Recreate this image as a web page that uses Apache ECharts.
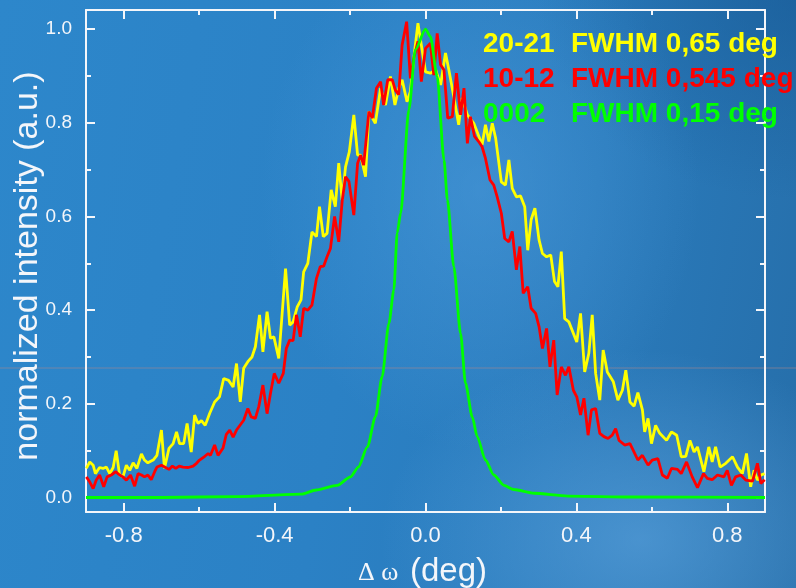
<!DOCTYPE html>
<html>
<head>
<meta charset="utf-8">
<script src="https://cdn.jsdelivr.net/npm/echarts@6/dist/echarts.min.js"></script>
<style>
  html, body { margin: 0; padding: 0; width: 796px; height: 588px; overflow: hidden; }
  body {
    background:
      radial-gradient(ellipse 260px 190px at 640px 540px, rgba(100,170,228,0.55), rgba(100,170,228,0) 100%),
      radial-gradient(ellipse 220px 260px at 480px 190px, rgba(85,162,226,0.45), rgba(85,162,226,0) 100%),
      radial-gradient(ellipse 260px 200px at 796px 0px, rgba(22,88,148,0.6), rgba(22,88,148,0) 100%),
      linear-gradient(100deg, #2d87cb 0%, #2b81c5 45%, #2a7bbc 70%, #266ea9 100%);
  }
  #chart { width: 796px; height: 588px; }
</style>
</head>
<body>
<div id="chart"></div>
<script>
// Axis tick positions
const xMajor = [-0.8, -0.4, 0, 0.4, 0.8];
const xMinor = [-0.6, -0.2, 0.2, 0.6];
const yMajor = [0, 0.2, 0.4, 0.6, 0.8, 1.0];
const yMinor = [0.1, 0.3, 0.5, 0.7, 0.9];

// 20-21 reflection rocking curve
const yellowX = [-0.899,-0.890,-0.881,-0.875,-0.864,-0.855,-0.846,-0.837,-0.828,-0.820,-0.811,-0.802,-0.793,-0.784,-0.775,-0.765,-0.753,-0.745,-0.736,-0.722,-0.712,-0.700,-0.692,-0.680,-0.669,-0.660,-0.652,-0.641,-0.632,-0.621,-0.612,-0.603,-0.594,-0.584,-0.572,-0.559,-0.546,-0.535,-0.522,-0.510,-0.501,-0.491,-0.482,-0.471,-0.460,-0.451,-0.440,-0.431,-0.420,-0.411,-0.402,-0.389,-0.371,-0.360,-0.351,-0.340,-0.330,-0.323,-0.312,-0.301,-0.289,-0.281,-0.271,-0.261,-0.250,-0.239,-0.230,-0.221,-0.212,-0.202,-0.190,-0.180,-0.172,-0.159,-0.150,-0.133,-0.119,-0.106,-0.093,-0.081,-0.071,-0.062,-0.049,-0.040,-0.031,-0.020,-0.011,0.000,0.013,0.027,0.040,0.053,0.062,0.075,0.088,0.097,0.111,0.128,0.150,0.159,0.168,0.177,0.186,0.201,0.212,0.221,0.230,0.241,0.252,0.263,0.271,0.280,0.290,0.301,0.310,0.321,0.332,0.342,0.351,0.360,0.369,0.380,0.401,0.411,0.422,0.433,0.442,0.451,0.462,0.471,0.482,0.498,0.510,0.522,0.531,0.542,0.553,0.563,0.575,0.581,0.590,0.599,0.610,0.621,0.639,0.652,0.666,0.678,0.690,0.701,0.712,0.721,0.738,0.751,0.760,0.769,0.781,0.796,0.814,0.827,0.840,0.851,0.862,0.871,0.880,0.889,0.899];
const yellowY = [0.062,0.076,0.069,0.051,0.064,0.062,0.065,0.051,0.064,0.100,0.048,0.044,0.069,0.058,0.074,0.062,0.093,0.080,0.074,0.080,0.090,0.144,0.062,0.105,0.115,0.140,0.115,0.115,0.158,0.097,0.176,0.158,0.164,0.154,0.180,0.204,0.215,0.254,0.250,0.236,0.286,0.204,0.276,0.290,0.300,0.322,0.390,0.311,0.397,0.340,0.343,0.297,0.489,0.368,0.375,0.407,0.422,0.482,0.500,0.567,0.557,0.621,0.557,0.564,0.657,0.621,0.714,0.635,0.706,0.738,0.817,0.731,0.731,0.685,0.824,0.799,0.874,0.838,0.899,0.838,0.874,0.892,0.845,0.867,0.938,1.013,0.966,0.909,0.906,0.913,0.881,0.949,0.913,0.856,0.796,0.853,0.817,0.799,0.753,0.796,0.760,0.799,0.767,0.674,0.667,0.721,0.660,0.642,0.644,0.621,0.528,0.593,0.618,0.550,0.521,0.514,0.518,0.461,0.450,0.525,0.382,0.375,0.332,0.393,0.268,0.308,0.390,0.265,0.208,0.315,0.268,0.247,0.208,0.229,0.272,0.204,0.195,0.224,0.187,0.140,0.169,0.115,0.154,0.137,0.122,0.140,0.133,0.087,0.088,0.122,0.097,0.108,0.055,0.108,0.076,0.108,0.065,0.073,0.087,0.065,0.051,0.094,0.023,0.058,0.037,0.048,0.051];

// 10-12 reflection rocking curve
const redX = [-0.899,-0.890,-0.881,-0.873,-0.864,-0.853,-0.844,-0.833,-0.821,-0.811,-0.802,-0.793,-0.782,-0.771,-0.762,-0.753,-0.745,-0.736,-0.727,-0.718,-0.712,-0.700,-0.689,-0.680,-0.671,-0.662,-0.653,-0.643,-0.629,-0.616,-0.607,-0.599,-0.585,-0.576,-0.570,-0.559,-0.550,-0.537,-0.528,-0.519,-0.510,-0.501,-0.482,-0.471,-0.462,-0.451,-0.442,-0.431,-0.420,-0.411,-0.401,-0.389,-0.377,-0.369,-0.360,-0.351,-0.342,-0.332,-0.323,-0.312,-0.301,-0.289,-0.279,-0.270,-0.261,-0.252,-0.241,-0.230,-0.221,-0.212,-0.203,-0.190,-0.180,-0.172,-0.164,-0.150,-0.141,-0.130,-0.119,-0.111,-0.100,-0.088,-0.080,-0.071,-0.062,-0.050,-0.040,-0.031,-0.020,-0.011,0.000,0.013,0.022,0.031,0.040,0.049,0.059,0.071,0.082,0.093,0.102,0.111,0.119,0.130,0.141,0.150,0.159,0.171,0.181,0.190,0.201,0.210,0.221,0.230,0.241,0.250,0.259,0.271,0.280,0.292,0.301,0.310,0.321,0.330,0.340,0.349,0.360,0.371,0.380,0.392,0.401,0.411,0.420,0.431,0.440,0.451,0.462,0.473,0.484,0.495,0.504,0.513,0.528,0.542,0.553,0.563,0.575,0.590,0.601,0.616,0.628,0.641,0.652,0.668,0.678,0.692,0.707,0.721,0.737,0.747,0.760,0.774,0.791,0.800,0.811,0.822,0.836,0.849,0.867,0.880,0.889,0.899];
const redY = [0.044,0.033,0.019,0.037,0.048,0.023,0.044,0.048,0.055,0.048,0.044,0.037,0.048,0.024,0.051,0.048,0.044,0.048,0.038,0.055,0.065,0.069,0.064,0.060,0.067,0.062,0.067,0.065,0.064,0.067,0.073,0.080,0.088,0.094,0.090,0.112,0.090,0.105,0.135,0.144,0.129,0.144,0.165,0.190,0.172,0.169,0.194,0.240,0.179,0.222,0.265,0.244,0.265,0.318,0.336,0.335,0.390,0.343,0.404,0.400,0.411,0.468,0.493,0.494,0.514,0.532,0.600,0.546,0.632,0.685,0.675,0.603,0.714,0.731,0.710,0.824,0.810,0.874,0.888,0.838,0.892,0.892,0.870,0.860,0.966,1.016,0.895,0.938,0.974,0.888,0.959,0.970,0.902,0.991,0.924,0.913,0.810,0.813,0.906,0.817,0.874,0.756,0.813,0.771,0.760,0.749,0.724,0.678,0.667,0.642,0.607,0.553,0.546,0.568,0.486,0.536,0.436,0.450,0.404,0.393,0.365,0.318,0.361,0.279,0.336,0.219,0.279,0.261,0.279,0.229,0.215,0.176,0.212,0.133,0.187,0.190,0.137,0.130,0.126,0.133,0.147,0.122,0.112,0.115,0.097,0.080,0.090,0.069,0.080,0.083,0.048,0.041,0.062,0.060,0.051,0.076,0.044,0.021,0.051,0.041,0.038,0.048,0.044,0.058,0.026,0.044,0.048,0.037,0.035,0.073,0.030,0.038];

// 0002 reflection rocking curve
const greenX = [-0.900,-0.700,-0.500,-0.330,-0.290,-0.234,-0.199,-0.178,-0.154,-0.133,-0.115,-0.097,-0.084,-0.075,-0.066,-0.044,-0.027,0.000,0.013,0.031,0.049,0.058,0.075,0.093,0.106,0.124,0.137,0.159,0.181,0.208,0.234,0.288,0.377,0.550,0.900];
const greenY = [0.000,0.000,0.002,0.007,0.016,0.026,0.044,0.065,0.108,0.172,0.258,0.372,0.443,0.565,0.607,0.828,0.956,1.000,0.984,0.899,0.721,0.636,0.493,0.350,0.244,0.172,0.130,0.080,0.048,0.026,0.017,0.009,0.003,0.001,0.000];

const legendRows = [
  { name: '20-21', fwhm: 'FWHM 0,65 deg', color: '#ffff00' },
  { name: '10-12', fwhm: 'FWHM 0,545 deg', color: '#ff0000' },
  { name: '0002', fwhm: 'FWHM 0,15 deg', color: '#00ff00' }
];

const pairs = (xs, ys) => xs.map((x, i) => [x, ys[i]]);

const X_MIN = -0.9, X_MAX = 0.9, Y_MIN = -0.031, Y_MAX = 1.041;
const white = '#f4f6fa';
const sans = '"Liberation Sans", Arial, sans-serif';

function xAxisDef(position, ticks, len, withLine, withLabels) {
  return {
    type: 'value', min: X_MIN, max: X_MAX, position: position,
    axisLine: { show: withLine, onZero: false, lineStyle: { color: white, width: 2 } },
    axisTick: { show: true, inside: true, length: len, customValues: ticks, lineStyle: { color: white, width: 2 } },
    axisLabel: withLabels ? {
      show: true, customValues: ticks, color: white, fontSize: 22, fontFamily: sans, margin: 13,
      formatter: v => v.toFixed(1)
    } : { show: false },
    splitLine: { show: false }
  };
}
function yAxisDef(position, ticks, len, withLine, withLabels) {
  return {
    type: 'value', min: Y_MIN, max: Y_MAX, position: position,
    axisLine: { show: withLine, onZero: false, lineStyle: { color: white, width: 2 } },
    axisTick: { show: true, inside: true, length: len, customValues: ticks, lineStyle: { color: white, width: 2 } },
    axisLabel: withLabels ? {
      show: true, customValues: ticks, color: white, fontSize: 19, fontFamily: sans, margin: 14,
      formatter: v => v.toFixed(1)
    } : { show: false },
    splitLine: { show: false }
  };
}

const chart = echarts.init(document.getElementById('chart'), null, { renderer: 'canvas' });

const graphics = [
  { type: 'line', z: 0, silent: true, shape: { x1: 0, y1: 368, x2: 796, y2: 368 },
    style: { stroke: 'rgba(175,135,140,0.55)', lineWidth: 1 } },
  { type: 'text', z: 100, x: 28, y: 266, rotation: Math.PI / 2,
    style: { text: 'normalized intensity (a.u.)', fill: white, font: '34px ' + sans,
             textAlign: 'center', textVerticalAlign: 'middle' } },
  { type: 'text', z: 100, x: 358, y: 573,
    style: { text: '\u0394 \u03c9', fill: white, font: '26px "Liberation Serif", serif',
             textAlign: 'left', textVerticalAlign: 'middle' } },
  { type: 'text', z: 100, x: 410, y: 572,
    style: { text: '(deg)', fill: white, font: '33px ' + sans,
             textAlign: 'left', textVerticalAlign: 'middle' } }
];
legendRows.forEach((row, i) => {
  const cy = 44 + i * 35;
  graphics.push({ type: 'text', z: 100, x: 483, y: cy,
    style: { text: row.name, fill: row.color, font: 'bold 28px ' + sans, textAlign: 'left', textVerticalAlign: 'middle' } });
  graphics.push({ type: 'text', z: 100, x: 571, y: cy,
    style: { text: row.fwhm, fill: row.color, font: 'bold 28px ' + sans, textAlign: 'left', textVerticalAlign: 'middle' } });
});

chart.setOption({
  animation: false,
  backgroundColor: 'transparent',
  grid: { left: 86, top: 10, right: 31, bottom: 76, containLabel: false },
  xAxis: [
    xAxisDef('bottom', xMajor, 9, true, true),
    xAxisDef('bottom', xMinor, 5, false, false),
    xAxisDef('top', xMajor, 9, true, false),
    xAxisDef('top', xMinor, 5, false, false)
  ],
  yAxis: [
    yAxisDef('left', yMajor, 9, true, true),
    yAxisDef('left', yMinor, 5, false, false),
    yAxisDef('right', yMajor, 9, true, false),
    yAxisDef('right', yMinor, 5, false, false)
  ],
  series: [
    { name: '20-21', type: 'line', xAxisIndex: 0, yAxisIndex: 0, data: pairs(yellowX, yellowY),
      showSymbol: false, symbol: 'none', lineStyle: { color: '#ffff00', width: 2.8 }, z: 2 },
    { name: '10-12', type: 'line', xAxisIndex: 0, yAxisIndex: 0, data: pairs(redX, redY),
      showSymbol: false, symbol: 'none', lineStyle: { color: '#ff0000', width: 2.8 }, z: 3 },
    { name: '0002', type: 'line', xAxisIndex: 0, yAxisIndex: 0, data: pairs(greenX, greenY),
      showSymbol: false, symbol: 'none', smooth: 0.25, smoothMonotone: 'x',
      lineStyle: { color: '#00ff00', width: 2.8 }, z: 4 }
  ],
  graphic: graphics
});
</script>
</body>
</html>
